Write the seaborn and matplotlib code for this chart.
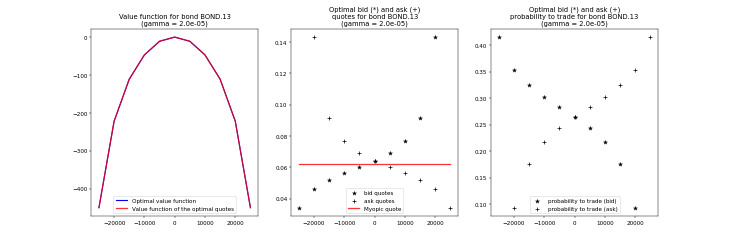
import numpy as np
import pandas as pd
import seaborn as sns
import matplotlib
matplotlib.use("Agg")
import matplotlib.pyplot as plt

inventory = [-25000, -20000, -15000, -10000, -5000, 0, 5000, 10000, 15000, 20000, 25000]
value_fn = [-450, -222, -111, -47, -11, 0, -11, -47, -111, -222, -450]

bid_quotes = [0.0343, 0.0459, 0.0519, 0.0563, 0.0602, 0.0643, 0.0694, 0.0768, 0.0913, 0.1432, np.nan]
ask_quotes = [np.nan, 0.1432, 0.0913, 0.0768, 0.0694, 0.0643, 0.0602, 0.0563, 0.0519, 0.0459, 0.0343]
myopic_quote = 0.0623

proba_bid = [0.415, 0.3537, 0.324, 0.3028, 0.2836, 0.2654, 0.2447, 0.2178, 0.1755, 0.0938, np.nan]
proba_ask = [np.nan, 0.0938, 0.1755, 0.2178, 0.2447, 0.2654, 0.2836, 0.3028, 0.324, 0.3537, 0.415]

df = pd.DataFrame({"q": inventory, "v": value_fn, "bid": bid_quotes, "ask": ask_quotes,
                   "pbid": proba_bid, "pask": proba_ask})

dpi = 731 / 18
fig, axes = plt.subplots(1, 3, figsize=(18, 6), dpi=dpi)

ax = axes[0]
sns.lineplot(data=df, x="q", y="v", color="b", lw=2, ax=ax, label="Optimal value function")
sns.lineplot(data=df, x="q", y="v", color="r", lw=2.2, alpha=0.8, ax=ax, label="Value function of the optimal quotes")
ax.set_title("Value function for bond BOND.13\n(gamma = 2.0e-05)")
ax.legend(loc="lower center")

ax = axes[1]
sns.scatterplot(data=df, x="q", y="bid", marker="*", color="k", s=55, edgecolor="k", ax=ax, label="bid quotes")
sns.scatterplot(data=df, x="q", y="ask", marker="+", color="k", s=55, linewidth=1.2, ax=ax, label="ask quotes")
myo = pd.DataFrame({"q": [inventory[0], inventory[-1]], "m": [myopic_quote, myopic_quote]})
sns.lineplot(data=myo, x="q", y="m", color="r", lw=2.2, alpha=0.8, ax=ax, label="Myopic quote")
ax.set_title("Optimal bid (*) and ask (+)\nquotes for bond BOND.13\n(gamma = 2.0e-05)")
ax.legend(loc="lower center")

ax = axes[2]
sns.scatterplot(data=df, x="q", y="pbid", marker="*", color="k", s=55, edgecolor="k", ax=ax, label="probability to trade (bid)")
sns.scatterplot(data=df, x="q", y="pask", marker="+", color="k", s=55, linewidth=1.2, ax=ax, label="probability to trade (ask)")
ax.set_title("Optimal bid (*) and ask (+)\nprobability to trade for bond BOND.13\n(gamma = 2.0e-05)")
ax.legend(loc="lower center")

for ax in axes:
    ax.set_xlabel("")
    ax.set_ylabel("")
    ax.set_xticks([-20000, -10000, 0, 10000, 20000])

fig.savefig("out.png", dpi=dpi)
